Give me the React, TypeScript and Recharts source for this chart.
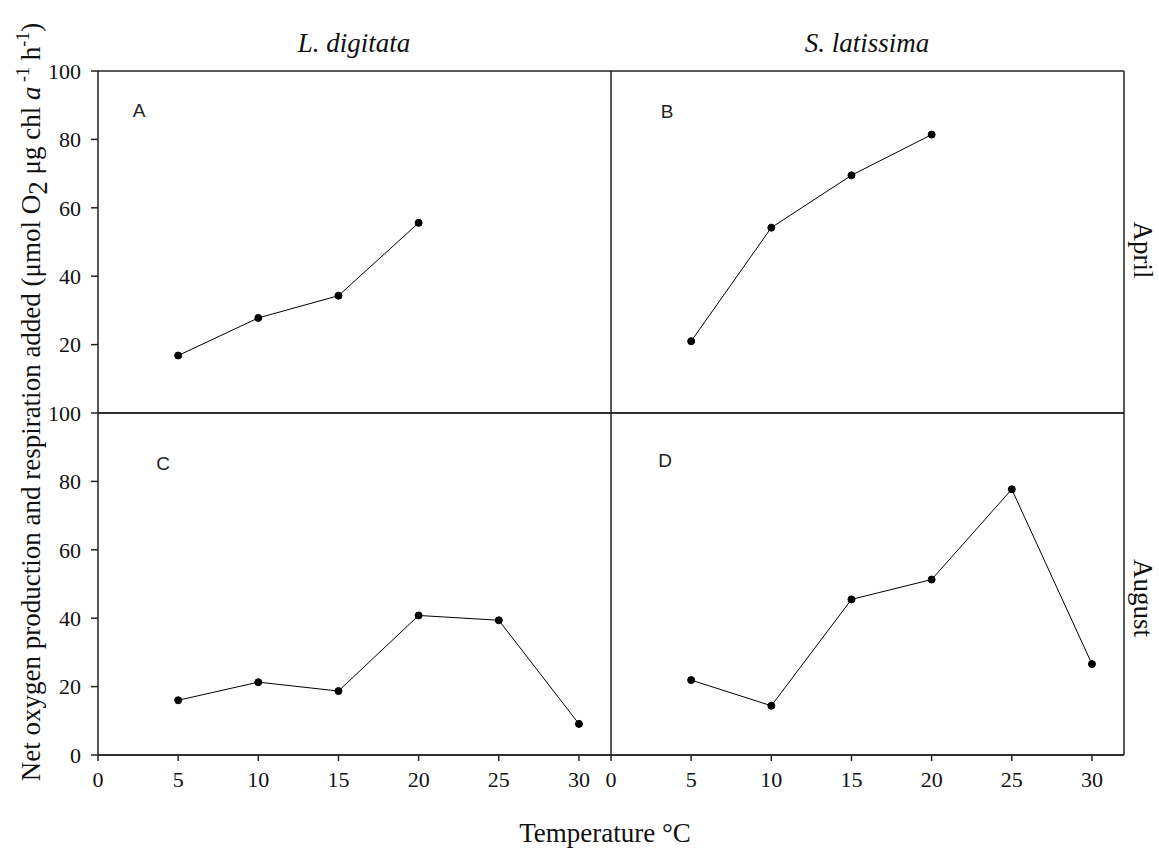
import { LineChart, Line, XAxis, YAxis, ReferenceLine } from "recharts";

const temps = [5, 10, 15, 20, 25, 30];
const aprilDigitata = [16.8, 27.8, 34.3, 55.6];
const aprilLatissima = [21.0, 54.2, 69.5, 81.4];
const augustDigitata = [16.0, 21.3, 18.7, 40.8, 39.4, 9.1];
const augustLatissima = [21.9, 14.4, 45.5, 51.3, 77.7, 26.6];
const xTicks = [0, 5, 10, 15, 20, 25, 30];
const yTicksTop = [20, 40, 60, 80, 100];
const yTicksBottom = [0, 20, 40, 60, 80, 100];

const W = 1159;
const H = 848;
const SERIF = "'Liberation Serif', 'Times New Roman', serif";
const SANS = "'Liberation Sans', Arial, sans-serif";
const AXIS = "#222";

const toRows = (vals: number[]) => vals.map((v, i) => ({ t: temps[i], v }));

interface PanelProps {
    values: number[];
    margin: { top: number; right: number; bottom: number; left: number };
    yTicks?: number[];
    showX: boolean;
}

function Panel({ values, margin, yTicks, showX }: PanelProps) {
    const tickStyle = { fontSize: 22, fill: "#111", fontFamily: SERIF };
    return (
        <div style={{ position: "absolute", left: 0, top: 0 }}>
            <LineChart width={W} height={H} data={toRows(values)} margin={margin}>
                <XAxis
                    type="number"
                    dataKey="t"
                    domain={[0, 32]}
                    ticks={xTicks}
                    hide={!showX}
                    height={50}
                    tickSize={6}
                    tickMargin={10}
                    tick={tickStyle}
                    axisLine={{ stroke: AXIS, strokeWidth: 1.5 }}
                    tickLine={{ stroke: AXIS, strokeWidth: 1.5 }}
                    allowDataOverflow
                />
                <YAxis
                    type="number"
                    domain={[0, 100]}
                    ticks={yTicks ?? []}
                    width={yTicks ? 98 : 0}
                    tickSize={yTicks ? 7 : 0}
                    tickMargin={10}
                    tick={yTicks ? tickStyle : false}
                    axisLine={{ stroke: AXIS, strokeWidth: 1.5 }}
                    tickLine={{ stroke: AXIS, strokeWidth: 1.5 }}
                    allowDataOverflow
                />
                <ReferenceLine y={100} stroke={AXIS} strokeWidth={1.5} />
                <ReferenceLine y={0} stroke={AXIS} strokeWidth={1.5} />
                <ReferenceLine x={32} stroke={AXIS} strokeWidth={1.5} />
                <Line
                    dataKey="v"
                    stroke="#000"
                    strokeWidth={1}
                    dot={{ r: 3.5, fill: "#000", stroke: "#000", strokeWidth: 1 }}
                    isAnimationActive={false}
                />
            </LineChart>
        </div>
    );
}

export default function App() {
    const sup = 18;
    return (
        <div style={{ position: "absolute", left: 0, top: 0, width: W, height: H, background: "#fff" }}>
            <Panel values={aprilDigitata} yTicks={yTicksTop} showX={false}
                margin={{ top: 71, right: W - 611, bottom: H - 413, left: 0 }} />
            <Panel values={aprilLatissima} showX={false}
                margin={{ top: 71, right: W - 1124, bottom: H - 413, left: 611 }} />
            <Panel values={augustDigitata} yTicks={yTicksBottom} showX={true}
                margin={{ top: 413, right: W - 611, bottom: H - 755 - 50, left: 0 }} />
            <Panel values={augustLatissima} showX={true}
                margin={{ top: 413, right: W - 1124, bottom: H - 755 - 50, left: 611 }} />

            <svg width={W} height={H} style={{ position: "absolute", left: 0, top: 0, pointerEvents: "none" }}>
                <g fontFamily={SERIF} fill="#111">
                    <text x={354} y={52} fontSize={27} fontStyle="italic" textAnchor="middle">L. digitata</text>
                    <text x={867} y={52} fontSize={27} fontStyle="italic" textAnchor="middle">S. latissima</text>
                    <text x={605} y={842} fontSize={27} textAnchor="middle">Temperature °C</text>
                    <text x={1143} y={250} fontSize={27} textAnchor="middle" dominantBaseline="central"
                        transform="rotate(90 1143 250)">April</text>
                    <text x={1143} y={598} fontSize={27} textAnchor="middle" dominantBaseline="central"
                        transform="rotate(90 1143 598)">August</text>
                    <text x={40} y={402} fontSize={27} textAnchor="middle" transform="rotate(-90 40 402)">
                        Net oxygen production and respiration added (μmol O
                        <tspan dy={7}>2</tspan>
                        <tspan dy={-7}> μg chl </tspan>
                        <tspan fontStyle="italic">a</tspan>
                        <tspan dy={-11} fontSize={sup}> -1</tspan>
                        <tspan dy={11}> h</tspan>
                        <tspan dy={-11} fontSize={sup}>-1</tspan>
                        <tspan dy={11}>)</tspan>
                    </text>
                </g>
                <g fontFamily={SANS} fill="#222" fontSize={19} textAnchor="middle" dominantBaseline="central">
                    <text x={139} y={110}>A</text>
                    <text x={667} y={111}>B</text>
                    <text x={163} y={463}>C</text>
                    <text x={665} y={460}>D</text>
                </g>
            </svg>
        </div>
    );
}
